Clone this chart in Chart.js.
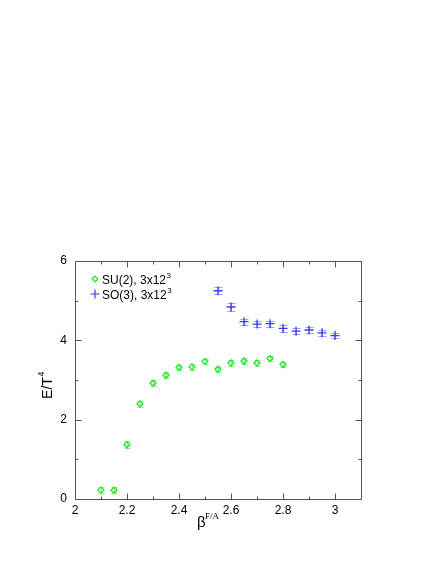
<!DOCTYPE html>
<html><head><meta charset="utf-8">
<script src="https://cdn.jsdelivr.net/npm/chart.js@4/dist/chart.umd.min.js"></script>
<style>html,body{margin:0;padding:0;background:#fff}#wrap{width:436px;height:564px}</style>
</head><body><div id="wrap"><canvas id="c" width="436" height="564"></canvas></div>
<script>
const suLabel = 'SU(2), 3x12';
const soLabel = 'SO(3), 3x12';
const suBeta = [2.10, 2.15, 2.20, 2.25, 2.30, 2.35, 2.40, 2.45, 2.50, 2.55, 2.60, 2.65, 2.70, 2.75, 2.80];
const suE    = [0.23, 0.22, 1.37, 2.40, 2.92, 3.12, 3.32, 3.33, 3.47, 3.27, 3.43, 3.48, 3.43, 3.54, 3.39];
const suErr  = [0.08, 0.08, 0.08, 0.07, 0.07, 0.07, 0.07, 0.07, 0.07, 0.07, 0.07, 0.07, 0.07, 0.07, 0.07];
const soBeta = [2.55, 2.60, 2.65, 2.70, 2.75, 2.80, 2.85, 2.90, 2.95, 3.00];
const soE    = [5.25, 4.84, 4.47, 4.41, 4.42, 4.30, 4.23, 4.26, 4.19, 4.12];
const soErr  = [0.09, 0.09, 0.08, 0.08, 0.08, 0.08, 0.07, 0.07, 0.07, 0.07];
const xTicks = [2, 2.2, 2.4, 2.6, 2.8, 3];
const xMinor = [2.1, 2.3, 2.5, 2.7, 2.9, 3.1];
const yTicks = [0, 2, 4, 6];
const yMinor = [1, 3, 5];

const GREEN = '#22e622';
const BLUE = '#3a3aff';

const decor = {
  id: 'decor',
  afterDatasetsDraw(chart) {
    const ctx = chart.ctx;
    const xs = chart.scales.x, ys = chart.scales.y;
    const bars = [[suBeta, suE, suErr, 'rgba(34,230,34,0.55)', 3], [soBeta, soE, soErr, 'rgba(58,58,255,0.5)', 4]];
    ctx.save();
    ctx.lineWidth = 1;
    bars.forEach(([bx, by, be, col, cw]) => {
      ctx.strokeStyle = col;
      bx.forEach((b, i) => {
        const px = Math.round(xs.getPixelForValue(b)) + 0.5;
        const y1 = Math.round(ys.getPixelForValue(by[i] + be[i])) + 0.5;
        const y2 = Math.round(ys.getPixelForValue(by[i] - be[i])) + 0.5;
        ctx.beginPath();
        ctx.moveTo(px, y1); ctx.lineTo(px, y2);
        ctx.moveTo(px - cw, y1); ctx.lineTo(px + cw, y1);
        ctx.moveTo(px - cw, y2); ctx.lineTo(px + cw, y2);
        ctx.stroke();
      });
    });
    ctx.restore();
  },
  afterDraw(chart) {
    const ctx = chart.ctx, a = chart.chartArea;
    const xs = chart.scales.x, ys = chart.scales.y;
    ctx.save();
    ctx.strokeStyle = '#555';
    ctx.lineWidth = 1;
    const L = Math.round(a.left) + 0.5, R = Math.round(a.right) + 0.5;
    const T = Math.round(a.top) + 0.5, B = Math.round(a.bottom) + 0.5;
    ctx.beginPath();
    ctx.rect(L, T, R - L, B - T);
    const tk = (v, len) => {
      const p = Math.round(xs.getPixelForValue(v)) + 0.5;
      ctx.moveTo(p, B); ctx.lineTo(p, B - len);
      ctx.moveTo(p, T); ctx.lineTo(p, T + len);
    };
    const tky = (v, len) => {
      const p = Math.round(ys.getPixelForValue(v)) + 0.5;
      ctx.moveTo(L, p); ctx.lineTo(L + len, p);
      ctx.moveTo(R, p); ctx.lineTo(R - len, p);
    };
    xTicks.forEach(v => tk(v, 6));
    xMinor.forEach(v => tk(v, 3));
    yTicks.forEach(v => tky(v, 6));
    yMinor.forEach(v => tky(v, 3));
    ctx.stroke();

    // legend
    ctx.font = '12px "Liberation Sans", Arial, sans-serif';
    ctx.textBaseline = 'alphabetic';
    ctx.textAlign = 'left';
    const rows = [[suLabel, 279, 'rectRot', GREEN, 3], [soLabel, 294, 'cross', BLUE, 4.5]];
    rows.forEach(([txt, y, st, col, r]) => {
      ctx.save();
      ctx.strokeStyle = col; ctx.fillStyle = 'rgba(0,0,0,0)'; ctx.lineWidth = 1.2;
      Chart.helpers.drawPoint(ctx, {pointStyle: st, radius: r, borderWidth: 1.2}, 95, y);
      ctx.restore();
      ctx.fillStyle = '#000';
      ctx.fillText(txt, 102, y + 4.5);
      const w = ctx.measureText(txt).width;
      ctx.font = '8px "Liberation Sans", Arial, sans-serif';
      ctx.fillText('3', 102 + w + 0.5, y - 1.5);
      ctx.font = '12px "Liberation Sans", Arial, sans-serif';
    });

    // y title
    ctx.fillStyle = '#000';
    ctx.save();
    ctx.translate(52, 385);
    ctx.rotate(-Math.PI / 2);
    ctx.font = '14px "Liberation Sans", Arial, sans-serif';
    ctx.textAlign = 'left';
    const yt = 'E/T';
    const yw = ctx.measureText(yt).width;
    ctx.fillText(yt, -yw / 2 - 3, 0);
    ctx.font = '9px "Liberation Sans", Arial, sans-serif';
    ctx.fillText('4', yw / 2 - 2.5, -8);
    ctx.restore();

    // x title
    ctx.font = '15px "Liberation Sans", Arial, sans-serif';
    ctx.textAlign = 'left';
    ctx.fillText('\u03b2', 197, 527);
    ctx.font = '9px "Liberation Serif", "Times New Roman", serif';
    ctx.fillText('F/A', 205, 519);
    ctx.restore();
  }
};

new Chart(document.getElementById('c'), {
  type: 'scatter',
  data: {
    datasets: [
      { label: suLabel, data: suBeta.map((b, i) => ({x: b, y: suE[i]})), pointStyle: 'rectRot', radius: 3, borderColor: GREEN, backgroundColor: 'rgba(0,0,0,0)', borderWidth: 1.3 },
      { label: soLabel, data: soBeta.map((b, i) => ({x: b, y: soE[i]})), pointStyle: 'cross', radius: 4.5, borderColor: BLUE, backgroundColor: BLUE, borderWidth: 1.3 }
    ]
  },
  options: {
    responsive: false,
    animation: false,
    devicePixelRatio: 1,
    layout: { padding: { left: 0, top: 261, right: 75, bottom: 0 } },
    plugins: { legend: { display: false }, tooltip: { enabled: false } },
    scales: {
      x: {
        type: 'linear', min: 2, max: 3.1,
        afterBuildTicks: s => { s.ticks = xTicks.map(v => ({value: v})); },
        afterFit: s => { s.height = 65; },
        grid: { display: false, drawTicks: false },
        border: { display: false },
        ticks: { padding: 4, color: '#000', font: { family: '"Liberation Sans", Arial, sans-serif', size: 12 }, callback: v => String(v), maxRotation: 0 }
      },
      y: {
        type: 'linear', min: 0, max: 6,
        afterBuildTicks: s => { s.ticks = yTicks.map(v => ({value: v})); },
        afterFit: s => { s.width = 75; },
        grid: { display: false, drawTicks: false },
        border: { display: false },
        ticks: { padding: 8, color: '#000', font: { family: '"Liberation Sans", Arial, sans-serif', size: 12 }, callback: v => String(v) }
      }
    }
  },
  plugins: [decor]
});
</script></body></html>
